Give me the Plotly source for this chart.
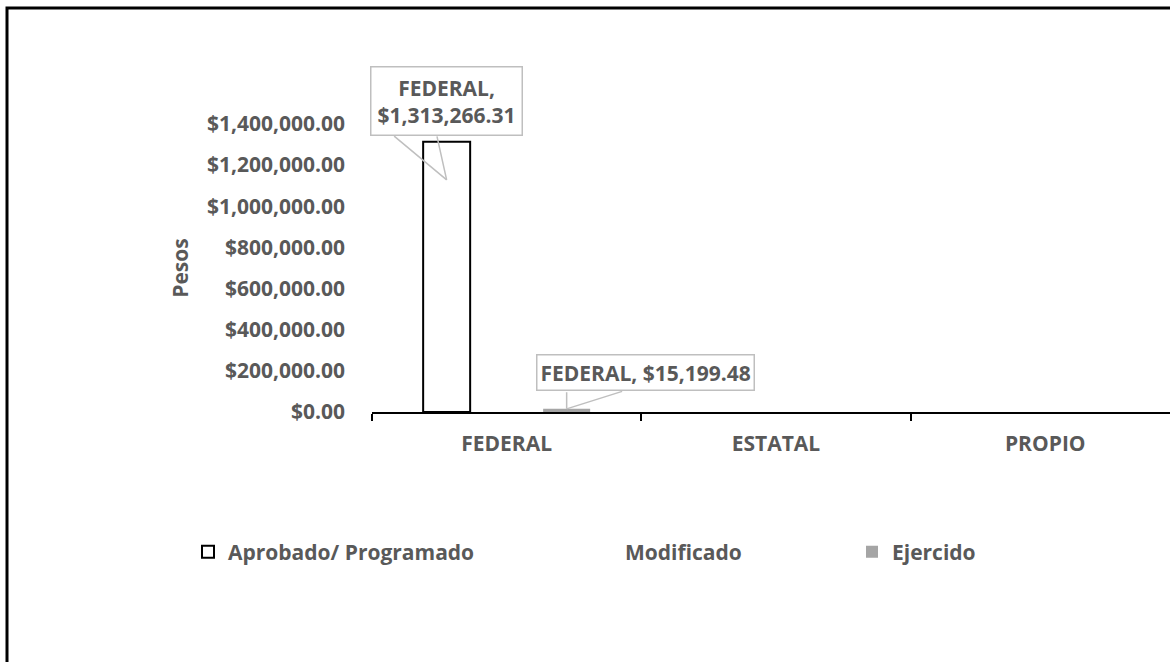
import plotly.graph_objects as go

categories = ["FEDERAL", "ESTATAL", "PROPIO"]
aprobado = [1313266.31, 0, 0]
modificado = [0, 0, 0]
ejercido = [15199.48, 0, 0]
series_names = ["Aprobado/ Programado", "Modificado", "Ejercido"]
y_ticks = [0, 200000, 400000, 600000, 800000, 1000000, 1200000, 1400000]

FONT = "Open Sans"
TXT = "#595959"
FS = 21

fig = go.Figure()
fig.add_trace(go.Bar(x=categories, y=aprobado, name=series_names[0], showlegend=True,
                     marker=dict(color="white",
                                 line=dict(color="black", width=[2 if v else 0 for v in aprobado])),
                     legend="legend"))
fig.add_trace(go.Bar(x=categories, y=modificado, name=series_names[1], showlegend=True,
                     marker=dict(color="rgba(255,255,255,0)", line=dict(width=0)),
                     legend="legend2"))
fig.add_trace(go.Bar(x=categories, y=ejercido, name=series_names[2], showlegend=True,
                     marker=dict(color="#A5A5A5", line=dict(width=0)),
                     legend="legend3"))

W, H = 1170, 662
L, R, T, B = 372, 0, 124, 250
pw = W - L - R
cat_w = 269.3
xmax = -0.5 + pw / cat_w

def lg(xpx):
    return dict(orientation="h", xref="container", yref="container",
                x=xpx / W, y=1 - 552 / H, xanchor="left", yanchor="middle",
                font=dict(family=FONT, size=FS, color=TXT, weight="bold"),
                bgcolor="rgba(0,0,0,0)", borderwidth=0, visible=True)

lab_font = dict(family=FONT, size=FS, color=TXT, weight="bold")
ann = []
# callout 1 (Aprobado, FEDERAL)
ann.append(dict(x=categories[0], y=aprobado[0], xref="x", yref="y", xshift=-60, yshift=40.5,
                text=f"FEDERAL,<br>${aprobado[0]:,.2f}", showarrow=False, font=lab_font,
                bgcolor="white", bordercolor="#BFBFBF", borderwidth=1.5, borderpad=6, align="center"))
for ax, ay in [(-54, -45), (-10, -45)]:
    ann.append(dict(x=categories[0], y=aprobado[0], xref="x", yref="y", xshift=-60, yshift=-38,
                    text="", showarrow=True, arrowhead=0, arrowwidth=1.5, arrowcolor="#BFBFBF",
                    ax=ax, ay=ay, standoff=0, startstandoff=0))
# callout 2 (Ejercido, FEDERAL)
ann.append(dict(x=categories[0], y=ejercido[0], xref="x", yref="y", xshift=139, yshift=36.5,
                text=f"FEDERAL, ${ejercido[0]:,.2f}", showarrow=False, font=lab_font,
                bgcolor="white", bordercolor="#BFBFBF", borderwidth=1.5, borderpad=3, align="center"))
for ax, ay in [(0, -18), (57, -18)]:
    ann.append(dict(x=categories[0], y=ejercido[0], xref="x", yref="y", xshift=60, yshift=0,
                    text="", showarrow=True, arrowhead=0, arrowwidth=1.5, arrowcolor="#BFBFBF",
                    ax=ax, ay=ay, standoff=0, startstandoff=0))

fig.update_layout(
    width=W, height=H,
    margin=dict(l=L, r=R, t=T, b=B, autoexpand=False),
    paper_bgcolor="white", plot_bgcolor="white",
    barmode="group", bargap=0.3316, bargroupgap=0.2167,
    font=dict(family=FONT, size=FS, color=TXT),
    showlegend=True,
    legend=lg(188), legend2=lg(585), legend3=lg(852),
    annotations=ann,
    shapes=[dict(type="rect", xref="paper", yref="paper",
                 x0=(7 - L) / pw, x1=1.05, y0=-1.0, y1=(412 - 8) / 288,
                 line=dict(color="black", width=3), fillcolor="rgba(0,0,0,0)", layer="below")],
)
fig.update_xaxes(type="category", range=[-0.5, xmax], showline=True, linecolor="black", linewidth=2,
                 ticks="outside", tickson="boundaries", ticklen=7, tickwidth=2, tickcolor="black",
                 showgrid=False, ticklabelstandoff=12,
                 tickfont=dict(family=FONT, size=FS, color=TXT, weight="bold"))
fig.update_yaxes(range=[0, 1400000], tickvals=y_ticks, tickformat="$,.2f", showline=False,
                 showgrid=False, zeroline=False, ticks="", ticklabelstandoff=26,
                 tickfont=dict(family=FONT, size=FS, color=TXT, weight="bold"),
                 title=dict(text="Pesos", standoff=12,
                            font=dict(family=FONT, size=FS, color=TXT, weight="bold")))

fig.write_html("out.html", config={"displayModeBar": False},
               post_script="document.body.style.margin='0';")
